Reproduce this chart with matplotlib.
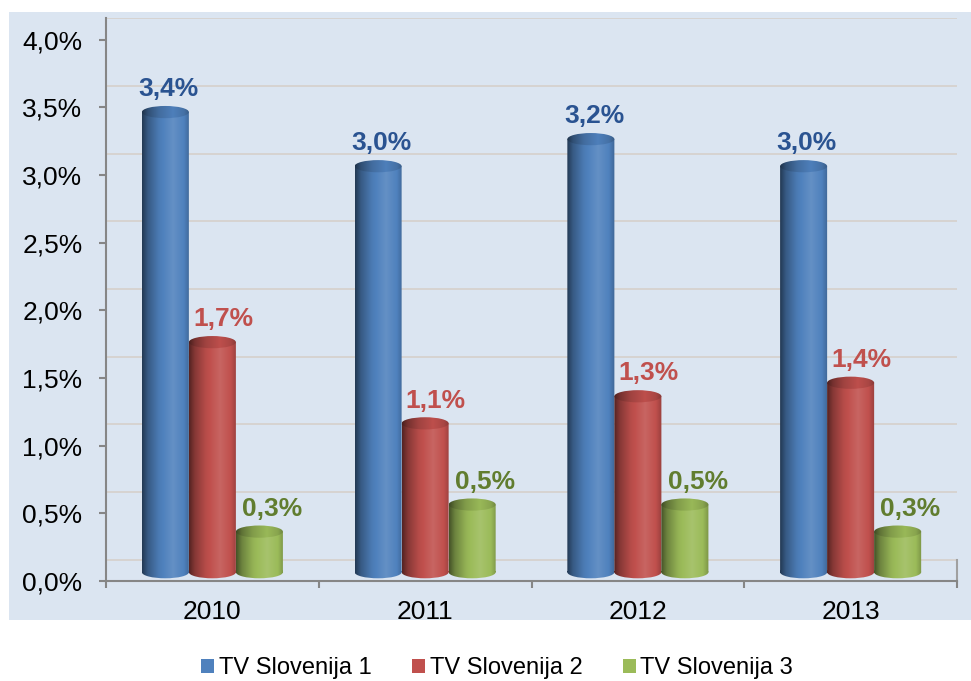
import numpy as np
import matplotlib
matplotlib.use("Agg")
import matplotlib.pyplot as plt
from matplotlib.colors import to_rgb
from matplotlib.patches import Patch, Rectangle, PathPatch
from matplotlib.path import Path

plt.rcParams['font.family'] = ['Liberation Sans', 'DejaVu Sans']

years = ["2010", "2011", "2012", "2013"]
series = ["TV Slovenija 1", "TV Slovenija 2", "TV Slovenija 3"]
slo1 = [3.4, 3.0, 3.2, 3.0]
slo2 = [1.7, 1.1, 1.3, 1.4]
slo3 = [0.3, 0.5, 0.5, 0.3]
values = [slo1, slo2, slo3]

bar_colors = ["#4f81bd", "#c0504d", "#9bbb59"]
label_colors = ["#2a5391", "#c0504d", "#617d2f"]
label_shift = [0.015, 0.05, 0.06]

depth = 0.157      # 3d back wall offset (data units)
base = 0.065       # bars sit a little into the floor
cap_h = 0.09       # ellipse height of the cylinder caps
width = 0.221


def shade(color, n=64, k=1.0):
    rgb = np.array(to_rgb(color))
    pos = np.linspace(0, 1, n)
    f = np.interp(pos, [0, 0.12, 0.35, 0.65, 0.88, 1.0],
                  [0.45, 0.7, 0.95, 1.12, 1.0, 0.8]) * k
    cols = np.clip(rgb[None, :] * f[:, None], 0, 1)
    cols = np.where(f[:, None] > 1, rgb + (1 - rgb) * (f[:, None] - 1), cols)
    return cols[None, :, :]


def cylinder(ax, x, top, color):
    x0, x1 = x - width / 2, x + width / 2
    rect = Path([(x0, base), (x1, base), (x1, top), (x0, top), (x0, base)],
                [Path.MOVETO, Path.LINETO, Path.LINETO, Path.LINETO, Path.CLOSEPOLY])
    circ = Path.unit_circle()
    ell = Path(circ.vertices * [width / 2, cap_h / 2] + [x, base], circ.codes)
    body = Path.make_compound_path(rect, ell)
    im = ax.imshow(shade(color), extent=[x0, x1, base - cap_h, top],
                   aspect='auto', interpolation='bilinear', zorder=3)
    im.set_clip_path(PathPatch(body, transform=ax.transData))
    cap = Path(circ.vertices * [width / 2, cap_h / 2] + [x, top], circ.codes)
    im2 = ax.imshow(shade(color, k=0.88), extent=[x0, x1, top - cap_h, top + cap_h],
                    aspect='auto', interpolation='bilinear', zorder=4)
    im2.set_clip_path(PathPatch(cap, transform=ax.transData))


fig = plt.figure(figsize=(9.71, 6.81), dpi=100)
fig.patches.append(Rectangle((9 / 971, 1 - 620 / 681), 1, (620 - 12) / 681,
                             transform=fig.transFigure, facecolor="#dbe5f1",
                             edgecolor="none", zorder=-10))

ax = fig.add_axes([106 / 971, 1 - 581 / 681, (957 - 106) / 971, (581 - 18.4) / 681])
ax.set_facecolor("none")

x = np.arange(len(years))
offsets = [-width, 0, width]
for vals, off, col, lcol, sh in zip(values, offsets, bar_colors, label_colors, label_shift):
    for xi, v in zip(x, vals):
        cylinder(ax, xi + off, v + base, col)
        ax.text(xi + off + sh, v + base + 0.08, f"{v:.1f}%".replace(".", ","),
                ha="center", va="bottom", fontsize=19, fontweight="bold",
                color=lcol, zorder=5)

# back wall gridlines
for t in np.arange(0, 4.01, 0.5):
    ax.axhline(t + depth, color="#d6d2ce", lw=1.3, zorder=1)
ax.plot([3.5, 3.5], [0, depth], color="#a0a0a0", lw=1.5, zorder=1, clip_on=False)

ax.set_xlim(-0.5, 3.5)
ax.set_ylim(0, 4.0 + depth)
ax.set_yticks(np.arange(0, 4.01, 0.5))
ax.set_yticklabels([f"{t:.1f}%".replace(".", ",") for t in np.arange(0, 4.01, 0.5)])
ax.set_xticks([-0.5, 0.5, 1.5, 2.5, 3.5])
ax.set_xticklabels([])
ax.set_xticks(x, minor=True)
ax.set_xticklabels(years, minor=True)
ax.tick_params(axis="x", which="minor", length=0, pad=14, labelsize=19)
ax.tick_params(axis="x", which="major", length=5, color="#868686", width=1.5)
ax.tick_params(axis="y", length=5, color="#868686", width=1.5, pad=12, labelsize=19)
for s in ["top", "right"]:
    ax.spines[s].set_visible(False)
for s in ["left", "bottom"]:
    ax.spines[s].set_color("#868686")
    ax.spines[s].set_linewidth(1.5)

handles = [Patch(facecolor=c, edgecolor="none") for c in bar_colors]
fig.legend(handles, series, loc="center", bbox_to_anchor=(0.512, 1 - 668 / 681),
           ncol=3, frameon=False, fontsize=17, handlelength=0.55, handleheight=0.55,
           handletextpad=0.2, columnspacing=1.7)

fig.savefig("out.png", dpi=100)
